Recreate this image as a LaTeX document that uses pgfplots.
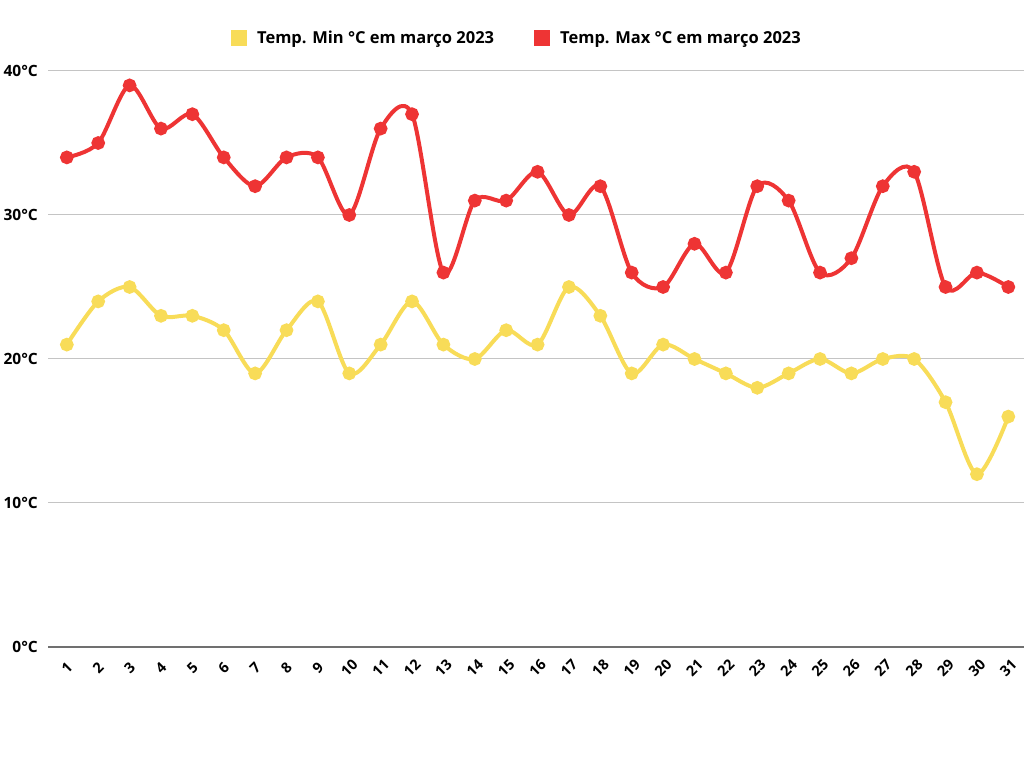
\documentclass[border=0pt]{standalone}
\usepackage{pgfplots}
\pgfplotsset{compat=1.18}
\usepackage{fontspec}
\setmainfont{Open Sans}

\definecolor{tmin}{HTML}{F8DC58}
\definecolor{tmax}{HTML}{EE3434}
\definecolor{gridc}{HTML}{C4C4C4}
\definecolor{basec}{HTML}{707070}

\pgfplotstableread{
day tmin tmax
1 21 34
2 24 35
3 25 39
4 23 36
5 23 37
6 22 34
7 19 32
8 22 34
9 24 34
10 19 30
11 21 36
12 24 37
13 21 26
14 20 31
15 22 31
16 21 33
17 25 30
18 23 32
19 19 26
20 21 25
21 20 28
22 19 26
23 18 32
24 19 31
25 20 26
26 19 27
27 20 32
28 20 33
29 17 25
30 12 26
31 16 25
}\temps

\begin{document}
\begin{tikzpicture}[x=1pt,y=1pt]
\path[use as bounding box] (0,0) rectangle (1024,768);
\begin{axis}[
    at={(48pt,121pt)}, anchor=south west,
    scale only axis, width=976pt, height=576pt,
    xmin=0.4, xmax=31.5, ymin=0, ymax=40,
    axis line style={draw=none},
    major tick length=0pt,
    ytick={10,20,30,40},
    yticklabels={10°C,20°C,30°C,40°C},
    extra y ticks={0}, extra y tick labels={0°C},
    extra y tick style={grid style={draw=basec, line width=1.3pt}},
    ymajorgrids, grid style={draw=gridc, line width=1pt},
    xtick={1,...,31},
    /pgf/number format/assume math mode=true,
    yticklabel style={font=\fontsize{15.5}{18}\selectfont\bfseries, anchor=east, inner sep=0pt, xshift=-10pt},
    xticklabel style={font=\fontsize{14.5}{17}\selectfont\bfseries, anchor=center, inner sep=0pt, yshift=-21pt, rotate=45},
    legend columns=2,
    legend style={at={(0.4805,1.0573)}, anchor=center, draw=none, fill=none,
        font=\fontsize{16.5}{19}\selectfont\bfseries,
        /tikz/every odd column/.append style={column sep=8pt},
        /tikz/every even column/.append style={column sep=38pt}},
    legend cell align=left,
]
\addplot[tmin, line width=4pt, smooth, tension=0.5, mark=*, mark size=4.8pt,
    legend image code/.code={\fill[tmin] (0pt,-6pt) rectangle (12pt,6pt);}]
    table[x=day, y=tmin] {\temps};
\addlegendentry{Temp. Min °C em março 2023}
\addplot[tmax, line width=4pt, smooth, tension=0.5, mark=*, mark size=4.8pt,
    legend image code/.code={\fill[tmax] (0pt,-6pt) rectangle (12pt,6pt);}]
    table[x=day, y=tmax] {\temps};
\addlegendentry{Temp. Max °C em março 2023}
\end{axis}
\end{tikzpicture}
\end{document}
